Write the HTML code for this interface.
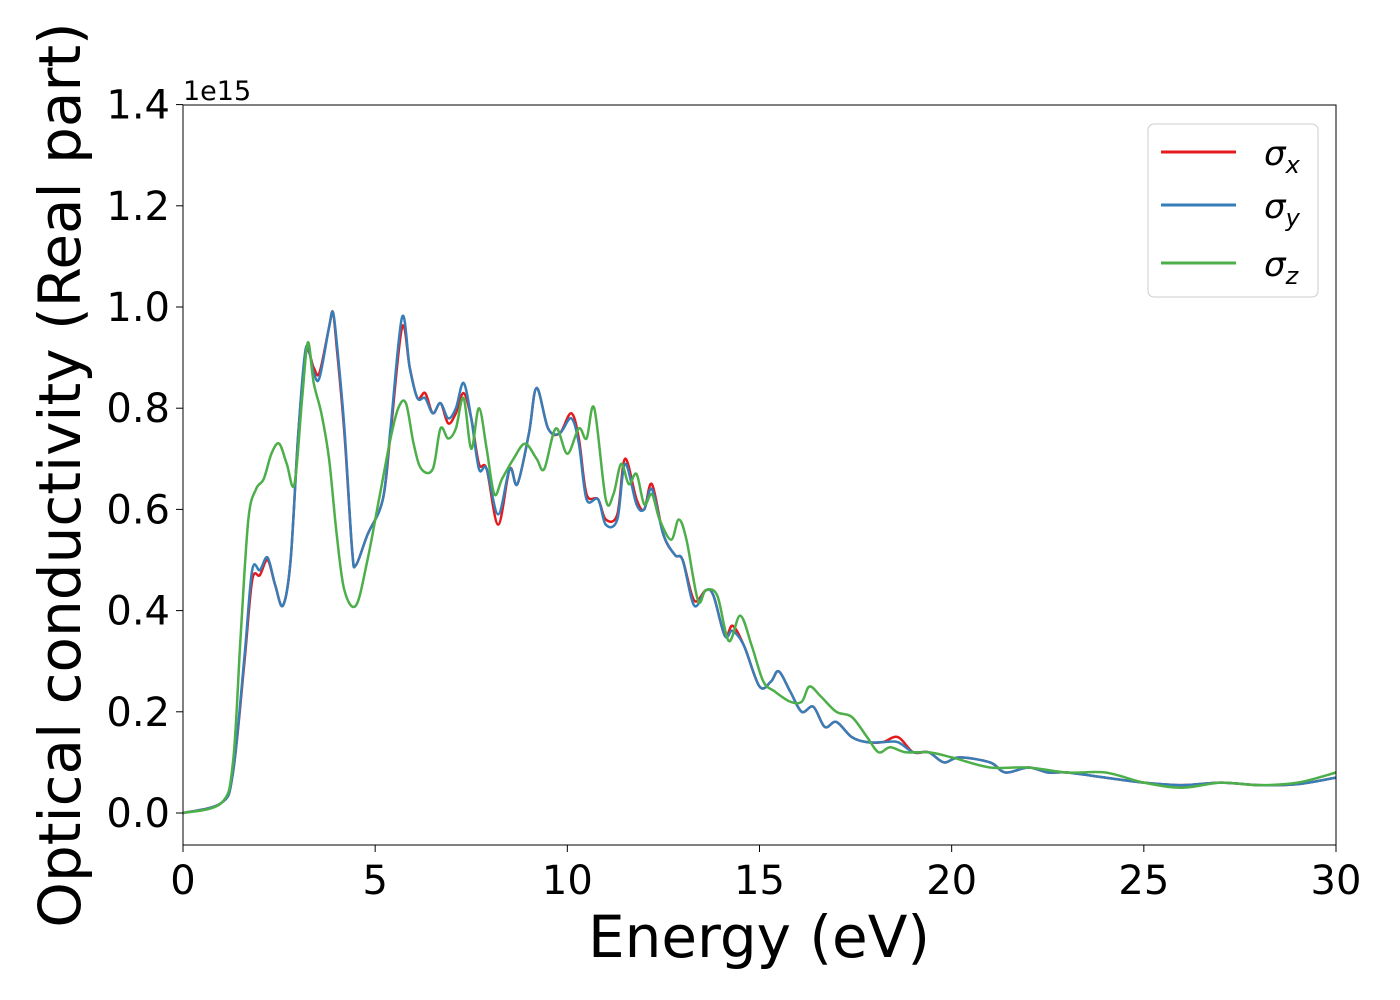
<!DOCTYPE html>
<html><head><meta charset="utf-8"><style>body{margin:0;background:#fff}svg{display:block}text{font-family:"DejaVu Sans","Liberation Sans",sans-serif}</style></head>
<body>
<svg id="chart" width="1400" height="1000" xmlns="http://www.w3.org/2000/svg">
<g id="grid"></g>
<g id="series" clip-path="url(#clip)"></g>
<defs><clipPath id="clip"><rect x="183" y="105" width="1153" height="740"/></clipPath></defs>
<rect x="183" y="105" width="1153" height="740" fill="none" stroke="#000" stroke-width="1"/>
<g id="axes"></g>
<text x="183" y="100" font-size="27">1e15</text>
<text x="759" y="957" font-size="58" text-anchor="middle">Energy (eV)</text>
<text transform="translate(80,475) rotate(-90)" font-size="58" text-anchor="middle">Optical conductivity (Real part)</text>
<g>
<rect x="1148" y="124" width="170" height="173" rx="6" fill="#fff" fill-opacity="0.8" stroke="#ccc"/>
<line x1="1161" y1="152" x2="1236" y2="152" stroke="#e41a1c" stroke-width="3"/>
<line x1="1161" y1="205" x2="1236" y2="205" stroke="#377eb8" stroke-width="3"/>
<line x1="1161" y1="263" x2="1236" y2="263" stroke="#4daf4a" stroke-width="3"/>
<text x="1264" y="165" font-size="34" font-style="italic">σ<tspan font-size="24" dy="8">x</tspan></text>
<text x="1264" y="218" font-size="34" font-style="italic">σ<tspan font-size="24" dy="8">y</tspan></text>
<text x="1264" y="276" font-size="34" font-style="italic">σ<tspan font-size="24" dy="8">z</tspan></text>
</g>
</svg>
<script>
const xTicks=[0,5,10,15,20,25,30];
const yTicks=[0.0,0.2,0.4,0.6,0.8,1.0,1.2,1.4];
const energyX=[0,1,1.3,1.6,1.8,2.0,2.2,2.4,2.6,2.8,3.0,3.2,3.4,3.55,3.8,3.9,4.0,4.2,4.4,4.5,4.8,5.2,5.4,5.7,5.9,6.1,6.3,6.5,6.7,6.9,7.1,7.3,7.5,7.7,7.9,8.2,8.5,8.7,9.0,9.2,9.5,9.8,10.1,10.3,10.5,10.8,11.0,11.3,11.5,11.8,12.0,12.2,12.5,12.8,13.0,13.3,13.6,13.8,14.1,14.3,14.6,15.0,15.3,15.5,15.8,16.1,16.4,16.7,17.0,17.4,17.8,18.2,18.6,19.0,19.4,19.8,20.2,21,21.4,22,22.5,23,24,25,26,27,28,29,30];
const sigmaX=[0,0.02,0.08,0.3,0.46,0.47,0.5,0.45,0.41,0.5,0.75,0.91,0.88,0.87,0.96,0.99,0.92,0.75,0.52,0.49,0.55,0.62,0.75,0.96,0.88,0.82,0.83,0.79,0.81,0.77,0.79,0.83,0.78,0.69,0.68,0.57,0.68,0.65,0.75,0.84,0.76,0.75,0.79,0.74,0.63,0.62,0.58,0.59,0.70,0.62,0.60,0.65,0.55,0.51,0.50,0.42,0.44,0.43,0.35,0.37,0.33,0.25,0.26,0.28,0.24,0.20,0.21,0.17,0.18,0.15,0.14,0.14,0.15,0.12,0.12,0.10,0.11,0.10,0.08,0.09,0.08,0.08,0.07,0.06,0.055,0.06,0.055,0.057,0.07];
const sigmaY=[0,0.02,0.08,0.31,0.48,0.48,0.505,0.45,0.41,0.5,0.75,0.92,0.87,0.86,0.96,0.99,0.93,0.76,0.52,0.49,0.55,0.62,0.76,0.98,0.88,0.82,0.82,0.79,0.81,0.78,0.80,0.85,0.78,0.68,0.68,0.59,0.68,0.65,0.75,0.84,0.76,0.75,0.78,0.73,0.62,0.62,0.57,0.58,0.69,0.61,0.60,0.64,0.55,0.51,0.50,0.41,0.44,0.43,0.35,0.36,0.33,0.25,0.26,0.28,0.24,0.20,0.21,0.17,0.18,0.15,0.14,0.14,0.14,0.12,0.12,0.10,0.11,0.10,0.08,0.09,0.08,0.08,0.07,0.06,0.055,0.06,0.055,0.057,0.07];
const energyZ=[0,1,1.3,1.5,1.7,1.9,2.1,2.3,2.5,2.7,2.9,3.1,3.25,3.4,3.6,3.8,4.0,4.2,4.5,4.8,5.1,5.4,5.6,5.8,6.0,6.2,6.5,6.7,6.9,7.1,7.3,7.5,7.7,7.9,8.1,8.3,8.6,8.9,9.2,9.4,9.7,10.0,10.3,10.5,10.7,11.0,11.2,11.4,11.6,11.8,12.0,12.2,12.4,12.7,12.9,13.1,13.4,13.6,13.9,14.2,14.5,14.8,15.1,15.4,15.8,16.1,16.3,16.6,17.0,17.4,17.8,18.1,18.4,18.8,19.4,20,21,22,23,24,25,26,27,28,29,30];
const sigmaZ=[0,0.02,0.1,0.35,0.58,0.64,0.66,0.71,0.73,0.69,0.65,0.82,0.93,0.85,0.79,0.70,0.55,0.44,0.41,0.50,0.62,0.74,0.80,0.81,0.73,0.68,0.68,0.76,0.74,0.76,0.82,0.72,0.80,0.72,0.63,0.66,0.70,0.73,0.70,0.68,0.76,0.71,0.76,0.74,0.80,0.62,0.63,0.69,0.65,0.67,0.61,0.63,0.58,0.54,0.58,0.54,0.42,0.44,0.43,0.34,0.39,0.33,0.26,0.24,0.22,0.22,0.25,0.23,0.20,0.19,0.15,0.12,0.13,0.12,0.12,0.11,0.09,0.09,0.08,0.08,0.06,0.05,0.06,0.055,0.06,0.08];
const NS="http://www.w3.org/2000/svg";
const X0=183,X1=1336,Y0=813,YPER=506;
function xs(v){return X0+(X1-X0)*v/30;}
function ys(v){return Y0-YPER*v;}
const axes=document.getElementById('axes');
xTicks.forEach(t=>{
 const l=document.createElementNS(NS,'line');
 
 
 l.setAttribute('x1',xs(t));l.setAttribute('x2',xs(t));l.setAttribute('y1',845);l.setAttribute('y2',852);l.setAttribute('stroke','#000');
 axes.appendChild(l);
 const tx=document.createElementNS(NS,'text');
 
 
 tx.setAttribute('x',xs(t));tx.setAttribute('y',894);tx.setAttribute('font-size','40');tx.setAttribute('text-anchor','middle');
 tx.textContent=t;axes.appendChild(tx);
});
yTicks.forEach(t=>{
 const l=document.createElementNS(NS,'line');
 
 
 l.setAttribute('x1',176);l.setAttribute('x2',183);l.setAttribute('y1',ys(t));l.setAttribute('y2',ys(t));l.setAttribute('stroke','#000');
 axes.appendChild(l);
 const tx=document.createElementNS(NS,'text');
 
 
 tx.setAttribute('x',170);tx.setAttribute('y',ys(t)+14);tx.setAttribute('font-size','40');tx.setAttribute('text-anchor','end');
 tx.textContent=t.toFixed(1);axes.appendChild(tx);
});
function pathFor(xa,ya){
 const p=xa.map((x,i)=>[xs(x),ys(ya[i])]);
 let d='M'+p[0][0]+','+p[0][1];
 for(let i=0;i<p.length-1;i++){
  const a=p[Math.max(i-1,0)],b=p[i],c=p[i+1],e=p[Math.min(i+2,p.length-1)];
  const c1=[b[0]+(c[0]-a[0])/6,b[1]+(c[1]-a[1])/6],c2=[c[0]-(e[0]-b[0])/6,c[1]-(e[1]-b[1])/6];
  d+=' C'+c1+' '+c2+' '+c;
 }
 return d;
}
const sg=document.getElementById('series');
[[energyX,sigmaX,'#e41a1c','series-sigma-x'],[energyX,sigmaY,'#377eb8','series-sigma-y'],[energyZ,sigmaZ,'#4daf4a','series-sigma-z']].forEach(s=>{
 const p=document.createElementNS(NS,'path');
 
 
 p.setAttribute('d',pathFor(s[0],s[1]));p.setAttribute('fill','none');p.setAttribute('stroke',s[2]);p.setAttribute('stroke-width','2.5');
 sg.appendChild(p);
});
</script>
</body></html>
